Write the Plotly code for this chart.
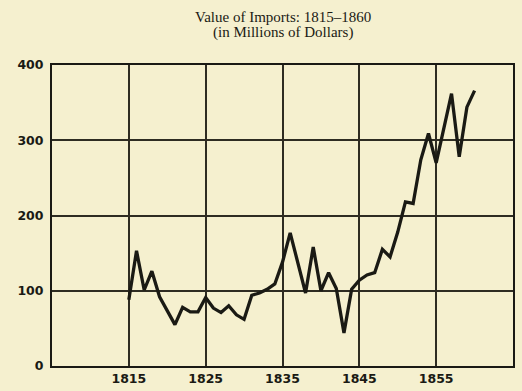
import plotly.graph_objects as go

years = list(range(1815, 1861))
imports = [88, 153, 101, 126, 92, 73, 55, 78, 72, 72,
           91, 77, 71, 80, 68, 62, 94, 97, 102, 109,
           138, 177, 137, 97, 158, 100, 124, 103, 44, 102,
           114, 121, 124, 155, 145, 178, 218, 216, 274, 309,
           270, 316, 362, 278, 344, 366]

x_ticks = [1815, 1825, 1835, 1845, 1855]
x_tick_labels = ["1815", "1825", "1835", "1845", "1855"]
y_ticks = [0, 100, 200, 300, 400]
y_tick_labels = ["0", "100", "200", "300", "400"]

title_line1 = "Value of Imports: 1815–1860"
title_line2 = "(in Millions of Dollars)"

paper = "#f5f0cf"
ink = "#1a1a14"
grid = "#2e2c22"

fig = go.Figure()
fig.add_trace(go.Scatter(x=years, y=imports, mode="lines",
                         line=dict(color=ink, width=3.3), hoverinfo="skip"))

for txt, shift in [(title_line1, 48), (title_line2, 33)]:
    fig.add_annotation(text=txt, xref="paper", yref="paper", x=0.5, y=1, yshift=shift,
                       xanchor="center", yanchor="middle", showarrow=False,
                       font=dict(family="Liberation Serif", size=15, color=ink))

tick_font = dict(family="DejaVu Sans", size=12.5, color=ink, weight="bold")

fig.update_layout(
    width=522, height=391,
    margin=dict(l=52, r=9, t=65, b=25, autoexpand=False),
    paper_bgcolor=paper, plot_bgcolor=paper,
    showlegend=False,
    xaxis=dict(range=[1805, 1865], tickvals=x_ticks, ticktext=x_tick_labels,
               showgrid=True, gridcolor=grid, gridwidth=1.5,
               showline=True, linecolor=ink, linewidth=2, mirror=True,
               ticks="", zeroline=False, automargin=False,
               tickfont=tick_font),
    yaxis=dict(range=[0, 400], tickvals=y_ticks, ticktext=y_tick_labels,
               showgrid=True, gridcolor=grid, gridwidth=1.5,
               showline=True, linecolor=ink, linewidth=2, mirror=True,
               ticks="", zeroline=False, ticklabelstandoff=4, automargin=False,
               tickfont=tick_font),
)

fig.write_html("out.html", config={"displayModeBar": False},
               post_script="document.body.style.margin='0';document.body.style.background='%s';" % paper)
